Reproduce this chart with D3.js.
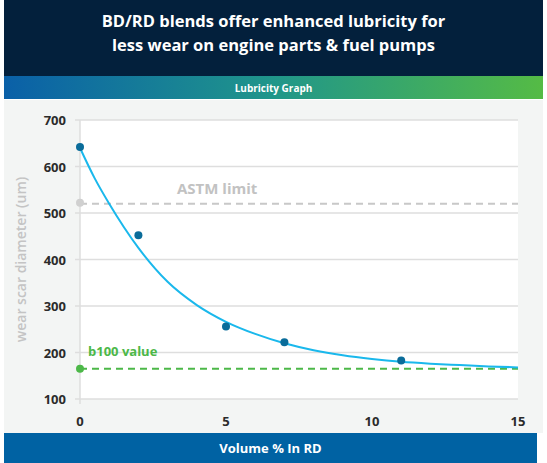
<!DOCTYPE html>
<html><head><meta charset="utf-8">
<script src="https://cdn.jsdelivr.net/npm/d3@7"></script>
<style>body{margin:0;background:#fff}svg{display:block;font-family:"Open Sans",sans-serif}</style>
</head><body>
<script>
var title = ["BD/RD blends offer enhanced lubricity for", "less wear on engine parts & fuel pumps"];
var xTicks = [0, 5, 10, 15];
var yTicks = [100, 200, 300, 400, 500, 600, 700];
var pointX = [0, 2, 5, 7, 11];
var pointY = [642, 452, 256, 222, 183];
var curveX = [0, 0.5, 1, 1.5, 2, 3, 4, 5, 6, 7, 8, 9, 10, 11, 12, 13, 14, 15];
var curveY = [640, 575, 520, 470, 425, 352, 302, 266, 240, 220, 205, 194, 186, 180, 176, 173, 170, 168];
var astmLimit = 520, b100Value = 165;

var W = 547, H = 463;
var svg = d3.select("body").append("svg").attr("width", W).attr("height", H);
var defs = svg.append("defs");
var g1 = defs.append("linearGradient").attr("id", "band");
g1.append("stop").attr("offset", 0).attr("stop-color", "#0a60a8");
g1.append("stop").attr("offset", 0.5).attr("stop-color", "#20968a");
g1.append("stop").attr("offset", 1).attr("stop-color", "#55bb45");

svg.append("rect").attr("x", 4).attr("width", W - 8).attr("height", 76).attr("fill", "#03203c");
title.forEach(function(t, i){
  svg.append("text").attr("x", W/2).attr("y", 27 + i*24).attr("text-anchor", "middle")
    .attr("fill", "#fff").attr("font-size", 16.5).attr("font-weight", 700).text(t);
});
svg.append("rect").attr("x", 4).attr("y", 76).attr("width", W - 8).attr("height", 23).attr("fill", "url(#band)");
svg.append("text").attr("x", W/2).attr("y", 92).attr("text-anchor", "middle").attr("fill", "#fff")
  .attr("font-size", 10).attr("font-weight", 700).text("Lubricity Graph");
svg.append("rect").attr("x", 4).attr("y", 100).attr("width", W - 8).attr("height", 333).attr("fill", "#f3f5f4");
svg.append("rect").attr("x", 4).attr("y", 433).attr("width", W - 14).attr("height", 30).attr("fill", "#0062a3");
svg.append("text").attr("x", W/2 - 3).attr("y", 453).attr("text-anchor", "middle").attr("fill", "#fff")
  .attr("font-size", 13).attr("font-weight", 700).text("Volume % In RD");

var x = d3.scaleLinear().domain([0, 15]).range([80, 518]);
var y = d3.scaleLinear().domain([100, 700]).range([399, 120]);

svg.append("rect").attr("x", x(0)).attr("y", y(700)).attr("width", x(15) - x(0)).attr("height", y(100) - y(700)).attr("fill", "#fff");
svg.append("g").selectAll("line").data(yTicks).join("line")
  .attr("x1", x(0) - 5).attr("x2", x(15)).attr("y1", y).attr("y2", y)
  .attr("stroke", "#dedede").attr("stroke-width", 1.5);
svg.append("line").attr("x1", x(0)).attr("x2", x(0)).attr("y1", y(700)).attr("y2", y(100) + 5)
  .attr("stroke", "#dedede").attr("stroke-width", 1.5);

svg.append("g").selectAll("text").data(yTicks).join("text")
  .attr("x", 66).attr("y", function(d){ return y(d) + 5; }).attr("text-anchor", "end")
  .attr("font-size", 13).attr("font-weight", 700).attr("fill", "#2b2b2b").text(function(d){ return d; });
svg.append("g").selectAll("text").data(xTicks).join("text")
  .attr("x", x).attr("y", 426).attr("text-anchor", "middle")
  .attr("font-size", 13).attr("font-weight", 700).attr("fill", "#2b2b2b").text(function(d){ return d; });
svg.append("text").attr("transform", "translate(26," + y(400) + ") rotate(-90)").attr("text-anchor", "middle")
  .attr("font-size", 14).attr("fill", "#c4c4c4").attr("font-weight", 600).text("wear scar diameter (um)");

// reference lines
svg.append("line").attr("x1", x(0)).attr("x2", x(15)).attr("y1", y(astmLimit)).attr("y2", y(astmLimit))
  .attr("stroke", "#c8c8c8").attr("stroke-width", 2).attr("stroke-dasharray", "7,5");
svg.append("circle").attr("cx", x(0)).attr("cy", y(astmLimit) - 1).attr("r", 4).attr("fill", "#d0d0d0");
svg.append("text").attr("x", 177).attr("y", 194).attr("font-size", 15).attr("font-weight", 700)
  .attr("fill", "#c2c2c2").text("ASTM  limit");
svg.append("line").attr("x1", x(0)).attr("x2", x(15)).attr("y1", y(b100Value)).attr("y2", y(b100Value))
  .attr("stroke", "#4cb848").attr("stroke-width", 2).attr("stroke-dasharray", "7,5");
svg.append("circle").attr("cx", x(0)).attr("cy", y(b100Value)).attr("r", 4).attr("fill", "#4cb848");
svg.append("text").attr("x", 88).attr("y", 356).attr("font-size", 13).attr("font-weight", 700)
  .attr("fill", "#4cb848").text("b100 value");

var line = d3.line().x(function(d){ return x(d[0]); }).y(function(d){ return y(d[1]); }).curve(d3.curveMonotoneX);
svg.append("path").datum(curveX.map(function(v, i){ return [v, curveY[i]]; }))
  .attr("d", line).attr("fill", "none").attr("stroke", "#1ab8ec").attr("stroke-width", 2);

svg.append("g").selectAll("circle").data(pointX).join("circle")
  .attr("cx", x).attr("cy", function(d, i){ return y(pointY[i]); }).attr("r", 4)
  .attr("fill", "#0a6c9a");
</script>
</body></html>
